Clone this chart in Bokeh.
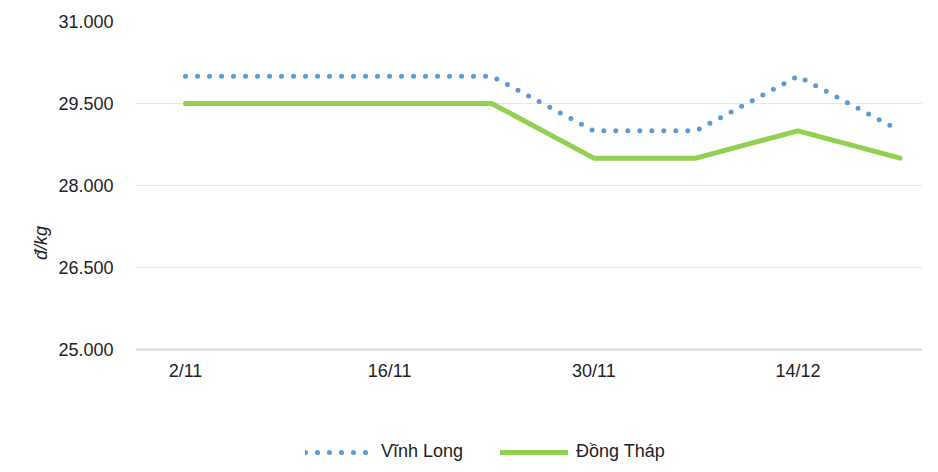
from bokeh.plotting import figure
from bokeh.models import Range1d, FixedTicker, Legend, LegendItem, Title
from bokeh.embed import file_html
from bokeh.resources import INLINE

# Data
x_idx = [0, 1, 2, 3, 4, 5, 6, 7]
dates = ["2/11", "9/11", "16/11", "23/11", "30/11", "7/12", "14/12", "21/12"]
shown_ticks = [0, 2, 4, 6]
vinh_long = [30000, 30000, 30000, 30000, 29000, 29000, 30000, 29000]
dong_thap = [29500, 29500, 29500, 29500, 28500, 28500, 29000, 28500]
y_ticks = [25000, 26500, 28000, 29500, 31000]
y_tick_labels = ["25.000", "26.500", "28.000", "29.500", "31.000"]

FONT = "Liberation Sans"

# frame reaches the bottom of the canvas so the legend can sit below the axis
p = figure(width=922, height=464, output_backend="svg", toolbar_location=None,
           x_range=Range1d(-0.49, 7.22), y_range=Range1d(22896, 31000),
           min_border_left=135, min_border_right=0, min_border_top=21,
           min_border_bottom=0)
p.outline_line_color = None
p.background_fill_color = "white"
p.border_fill_color = "white"

# axes
p.xaxis.ticker = FixedTicker(ticks=shown_ticks)
p.xaxis.major_label_overrides = {i: dates[i] for i in shown_ticks}
p.xaxis.fixed_location = y_ticks[0]
p.yaxis.ticker = FixedTicker(ticks=y_ticks)
p.yaxis.major_label_overrides = {v: s for v, s in zip(y_ticks, y_tick_labels)}
for ax in (p.xaxis[0], p.yaxis[0]):
    ax.major_tick_line_color = None
    ax.minor_tick_line_color = None
    ax.major_tick_out = 0
    ax.major_tick_in = 0
    ax.minor_tick_out = 0
    ax.minor_tick_in = 0
    ax.major_label_text_font = FONT
    ax.major_label_text_font_size = "18px"
    ax.major_label_text_color = "#222222"
p.yaxis.axis_line_color = None
p.yaxis.major_label_standoff = 22
p.xaxis.axis_line_color = "#D9D9D9"
p.xaxis.axis_line_width = 2
p.xaxis.major_label_standoff = 12
p.xgrid.grid_line_color = None
p.ygrid.ticker = FixedTicker(ticks=y_ticks)
p.ygrid.grid_line_color = "#E8E8E8"
p.ygrid.grid_line_width = 1

r1 = p.line(x_idx, vinh_long, line_color="#5B9BD5", line_width=5,
            line_dash="0 12", line_cap="round")
r2 = p.line(x_idx, dong_thap, line_color="#92D050", line_width=5,
            line_cap="round", line_join="round")

# y axis unit label
p.add_layout(Title(text="đ/kg", align="center", offset=100,
                   text_font=FONT, text_font_size="18px", text_font_style="italic",
                   text_color="#222222"), "left")

legend = Legend(items=[LegendItem(label="Vĩnh Long", renderers=[r1]),
                       LegendItem(label="Đồng Tháp", renderers=[r2])],
                orientation="horizontal", location=(170, 2),
                border_line_color=None, background_fill_alpha=0,
                label_text_font=FONT, label_text_font_size="18px",
                label_text_color="#222222", glyph_width=68, glyph_height=20,
                spacing=37, padding=0, margin=0, label_standoff=8)
p.add_layout(legend, "center")

open("out.html", "w").write(file_html(p, INLINE))
